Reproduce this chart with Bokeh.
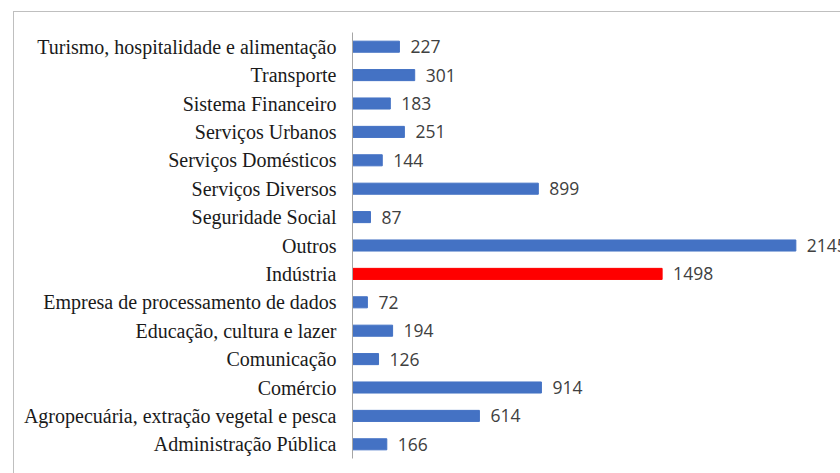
from bokeh.plotting import figure
from bokeh.models import ColumnDataSource, Range1d, FactorRange, InlineStyleSheet
from bokeh.core.properties import value
from bokeh.embed import file_html
from bokeh.resources import INLINE

categories = [
    "Turismo, hospitalidade e alimentação",
    "Transporte",
    "Sistema Financeiro",
    "Serviços Urbanos",
    "Serviços Domésticos",
    "Serviços Diversos",
    "Seguridade Social",
    "Outros",
    "Indústria",
    "Empresa de processamento de dados",
    "Educação, cultura e lazer",
    "Comunicação",
    "Comércio",
    "Agropecuária, extração vegetal e pesca",
    "Administração Pública",
]
values = [227, 301, 183, 251, 144, 899, 87, 2145, 1498, 72, 194, 126, 914, 614, 166]
highlight = "Indústria"

colors = ["#FF0000" if c == highlight else "#4472C4" for c in categories]
labels = [str(v) for v in values]

source = ColumnDataSource(dict(cat=categories, val=values, color=colors, label=labels))

border_css = InlineStyleSheet(css="""
:host { position: relative; }
:host::after {
  content: "";
  position: absolute;
  left: 13px; top: 11px;
  width: calc(100% - 13px); height: calc(100% - 11px);
  border-left: 1px solid #BFBFBF; border-top: 1px solid #BFBFBF;
  box-sizing: border-box;
  pointer-events: none;
}
""")

p = figure(
    width=840, height=473,
    y_range=FactorRange(*reversed(categories), range_padding=0),
    x_range=Range1d(0, 2361),
    output_backend="svg", toolbar_location=None,
    min_border_left=352, min_border_right=0, min_border_top=32, min_border_bottom=15,
    stylesheets=[border_css],
)
p.background_fill_color = "white"
p.border_fill_color = "white"
p.outline_line_color = None

p.hbar(y="cat", right="val", left=0, height=0.39, color="color", source=source)
p.text(x="val", y="cat", text="label", source=source, x_offset=11,
       text_baseline="middle", text_align="left",
       text_font=value("Open Sans"), text_font_size="17.5px", text_color="#404040")

p.xaxis.visible = False
p.xgrid.visible = False
p.ygrid.visible = False
yax = p.yaxis[0]
yax.major_tick_line_color = None
yax.minor_tick_line_color = None
yax.axis_line_color = "#A6A6A6"
yax.major_label_text_font = "Liberation Serif"
yax.major_label_text_font_size = "20px"
yax.major_label_text_color = "#1a1a1a"
yax.major_label_standoff = 10

open("out.html", "w").write(file_html(p, INLINE))
